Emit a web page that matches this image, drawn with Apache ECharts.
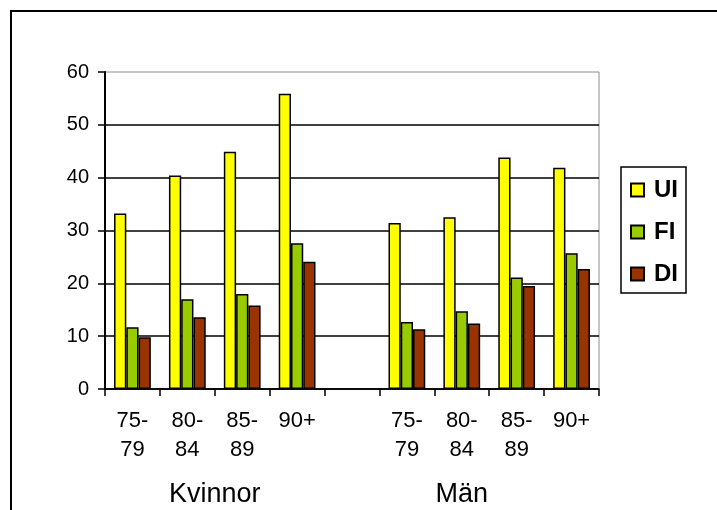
<!DOCTYPE html>
<html>
<head>
<meta charset="utf-8">
<script src="https://cdn.jsdelivr.net/npm/echarts@6/dist/echarts.min.js"></script>
<style>
html,body{margin:0;padding:0;background:#fff;}
#chart{width:717px;height:510px;}
</style>
</head>
<body>
<div id="chart"></div>
<script>
const categories = ['75-\n79','80-\n84','85-\n89','90+','','75-\n79','80-\n84','85-\n89','90+'];
const groups = [
  {name: 'Kvinnor', from: 0, to: 3},
  {name: 'Män', from: 4, to: 8}
];
const seriesNames = ['UI', 'FI', 'DI'];
const UI = [33.2, 40.4, 44.9, 55.9, null, 31.4, 32.5, 43.8, 41.9];
const FI = [11.7, 17.0, 18.0, 27.6, null, 12.7, 14.7, 21.1, 25.7];
const DI = [9.8, 13.6, 15.8, 24.1, null, 11.3, 12.4, 19.5, 22.7];
const yTicks = {min: 0, max: 60, interval: 10};

const colors = ['#FFFF00', '#99CC00', '#993300'];
const FONT = 'Arial, "Liberation Sans", sans-serif';

const chart = echarts.init(document.getElementById('chart'), null, {renderer: 'canvas'});

function mkSeries(name, data, color) {
  return {
    name: name,
    type: 'bar',
    data: data,
    barGap: '0%',
    barCategoryGap: '33%',
    itemStyle: {color: color, borderColor: '#000', borderWidth: 1.5},
    emphasis: {disabled: true}
  };
}

const option = {
  animation: false,
  backgroundColor: '#fff',
  grid: {
    left: 105, right: 118, top: 72, bottom: 121,
    show: true, borderColor: '#8c8c8c', borderWidth: 1, backgroundColor: 'transparent'
  },
  legend: {
    orient: 'vertical',
    left: 621, top: 167,
    padding: [11, 8, 7, 9],
    itemWidth: 13, itemHeight: 13,
    itemGap: 18,
    borderColor: '#000', borderWidth: 1.5,
    icon: 'rect',
    textStyle: {fontFamily: FONT, fontSize: 24, fontWeight: 'bold', color: '#000', lineHeight: 24, padding: [0, 0, 0, 5]},
    data: seriesNames
  },
  xAxis: {
    type: 'category',
    data: categories,
    axisLine: {lineStyle: {color: '#000', width: 1.5}},
    axisTick: {show: true, length: 7, lineStyle: {color: '#000', width: 1.5}},
    axisLabel: {fontFamily: FONT, fontSize: 22, color: '#000', lineHeight: 29, margin: 17, interval: 0}
  },
  yAxis: {
    type: 'value',
    min: yTicks.min, max: yTicks.max, interval: yTicks.interval,
    axisLine: {show: true, lineStyle: {color: '#000', width: 2}},
    axisTick: {show: true, length: 7, lineStyle: {color: '#000', width: 1.5}},
    axisLabel: {fontFamily: FONT, fontSize: 20, color: '#000', margin: 16},
    splitLine: {show: true, showMaxLine: false, lineStyle: {color: '#000', width: 1.5}}
  },
  series: [
    mkSeries(seriesNames[0], UI, colors[0]),
    mkSeries(seriesNames[1], FI, colors[1]),
    mkSeries(seriesNames[2], DI, colors[2])
  ]
};
chart.setOption(option);

// group labels and outer frame
const graphics = [{
  type: 'rect',
  shape: {x: 11, y: 11, width: 800, height: 600},
  style: {fill: 'none', stroke: '#000', lineWidth: 2},
  silent: true
}];
groups.forEach(function (g) {
  const x1 = chart.convertToPixel({xAxisIndex: 0}, g.from);
  const x2 = chart.convertToPixel({xAxisIndex: 0}, g.to);
  graphics.push({
    type: 'text',
    x: (x1 + x2) / 2, y: 495,
    style: {text: g.name, fontFamily: FONT, fontSize: 27, fill: '#000', align: 'center', verticalAlign: 'middle'},
    silent: true
  });
});
chart.setOption({graphic: graphics});
</script>
</body>
</html>
